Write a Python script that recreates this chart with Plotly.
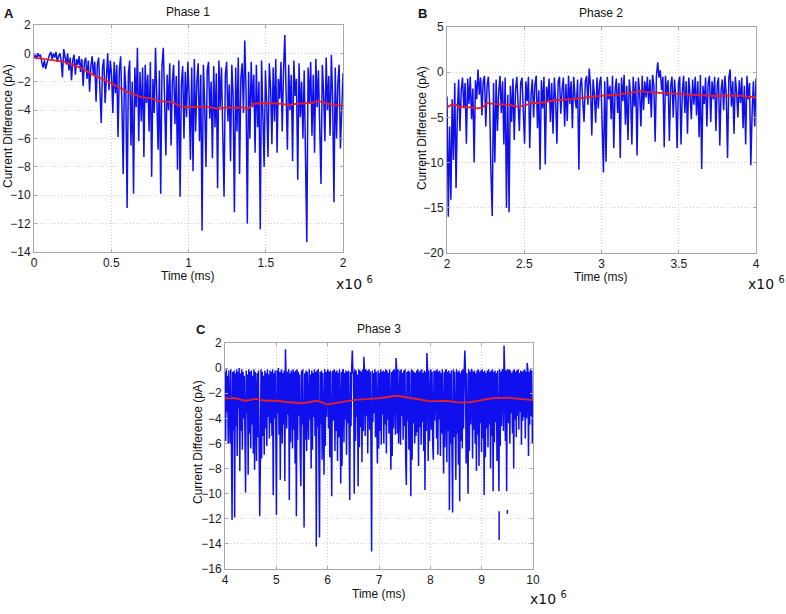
import numpy as np
import plotly.graph_objects as go

# ---------------- DATA ----------------
# Panel A (Phase 1): 0 .. 2e6 ms
phase1_range = [0, 2e6]
phase1_current = [
    -0.3,-0.1,-0.4,0.0,-0.2,-0.1,-0.6,-1.0,-0.5,-1.1,-0.7,-0.3,
    -0.1,0.1,-0.4,0.0,-0.3,0.1,-0.6,-0.2,0.0,-0.5,-1.7,0.3,
    -0.2,-0.8,0.0,-1.2,-0.3,-1.9,-0.5,-0.1,-1.5,-0.4,-0.8,-0.2,
    -1.3,-0.4,-2.3,-0.6,-0.3,-1.8,-0.5,-2.7,-0.9,-0.2,-1.6,-0.6,
    -3.4,-0.8,-0.3,-2.2,-4.9,-1.0,-0.4,-3.5,-1.2,0.0,-2.6,-0.5,
    -1.5,-4.2,-0.6,-2.8,-0.8,-5.9,-1.2,-0.2,-3.6,-8.5,-0.9,-2.4,
    -10.9,-1.5,-0.5,-6.5,-2.0,-9.9,-1.0,-3.8,0.4,-6.2,-1.3,-4.8,
    -1.0,-7.3,-0.8,-3.5,-1.5,-5.5,-0.6,-8.7,-1.8,-4.2,0.4,-2.5,
    -6.8,-1.2,-9.9,-0.9,0.4,-3.2,-7.2,-1.5,-4.0,-0.7,-6.5,-2.0,
    -0.8,-5.0,-1.6,-8.2,-0.5,-10.1,-2.2,-0.9,-6.0,-1.3,-4.5,-0.6,
    -3.0,-7.5,-1.0,-8.3,-0.4,-5.5,-2.0,-0.7,-6.2,-1.5,-12.5,-0.8,
    -3.5,-8.0,-1.2,-0.6,-4.6,-2.0,-7.4,-0.9,-5.2,-1.4,-9.5,-0.5,
    -3.8,-1.0,-6.8,-10.1,-1.5,-0.6,-4.8,-2.2,-7.6,-0.8,-3.0,-11.2,
    -1.0,-5.5,-0.3,-8.5,-1.8,-0.7,-4.2,0.9,-2.5,-12.0,-1.3,-6.0,
    -0.6,-3.8,-1.5,-7.0,-0.8,-5.2,-2.0,-12.4,-0.5,-4.0,-8.0,-1.2,
    -3.5,-7.3,-0.7,-2.4,-6.4,-1.0,-4.8,-0.4,-7.0,-1.8,-3.2,-0.6,
    -5.5,-1.2,1.3,-2.8,-6.8,-0.8,-4.0,-1.5,-7.6,-0.5,-3.0,-1.8,
    -8.9,-0.7,-4.5,-2.0,-6.0,-1.2,-8.0,-13.3,-1.0,-3.5,-0.6,-5.8,
    -1.5,-7.0,-0.4,-3.8,-1.2,-5.5,-9.2,-0.8,-2.8,-6.2,-0.3,-4.0,
    -1.6,-5.8,-0.1,-3.2,-10.5,-1.0,-6.0,-2.2,-0.8,-6.7,-3.0,-1.4,
]
phase1_mean_t = [0, 0.1e6, 0.2e6, 0.3e6, 0.4e6, 0.5e6, 0.6e6, 0.7e6, 0.75e6, 0.8e6,
                 0.9e6, 0.95e6, 1.0e6, 1.1e6, 1.2e6, 1.25e6, 1.3e6, 1.35e6, 1.38e6,
                 1.42e6, 1.5e6, 1.6e6, 1.65e6, 1.7e6, 1.8e6, 1.84e6, 1.9e6, 2.0e6]
phase1_mean = [-0.3, -0.45, -0.6, -1.0, -1.6, -2.1, -2.7, -3.1, -3.15, -3.35,
               -3.45, -3.75, -3.8, -3.75, -3.9, -3.8, -3.85, -3.8, -3.95,
               -3.55, -3.5, -3.55, -3.65, -3.55, -3.5, -3.35, -3.55, -3.7]

# Panel B (Phase 2): 2e6 .. 4e6 ms
phase2_range = [2e6, 4e6]
phase2_current = [
    -2.7,-16.0,-6.0,-14.1,-3.0,-9.7,-1.2,-12.8,-4.5,-0.8,-6.5,-2.0,
    -0.6,-4.0,-1.2,-7.9,-0.7,-3.5,-0.5,-5.2,-1.8,-10.0,-0.9,-3.0,
    0.3,-2.5,-0.6,-4.8,-1.0,-0.4,-6.0,-1.5,-0.5,-3.5,-11.1,-15.9,
    -1.2,-10.0,-0.8,-6.5,-2.2,-0.4,-4.5,-1.0,-8.0,-0.6,-15.0,-2.5,
    -15.5,-1.5,-5.5,-0.7,-7.5,-2.0,-0.5,-3.8,-6.5,-1.2,-0.6,-4.2,
    -7.9,-1.0,-3.2,-0.5,-8.4,-2.5,-0.8,-5.0,-1.4,-0.4,-6.2,-2.0,
    -10.8,-0.9,-4.0,-0.5,-10.2,-1.6,-3.2,-0.7,-5.5,-1.2,-6.8,-0.6,
    -3.0,-7.9,-1.0,-0.5,-4.6,-2.0,-0.6,-6.0,-1.3,-5.4,-0.4,-3.5,
    -1.0,-6.2,-0.5,-2.8,-4.0,-0.8,-10.8,-1.5,-0.6,-3.2,-5.5,-1.0,
    -0.4,-3.6,0.4,-1.5,-7.0,-0.8,-2.5,-5.6,-0.6,-4.0,-1.2,-0.5,
    -6.5,-11.1,-1.0,-9.9,-0.5,-3.0,-1.5,-5.2,-0.4,-8.4,-2.0,-0.7,
    -4.5,-1.2,-9.5,-0.6,-3.2,-0.3,-5.8,-1.5,-7.5,-0.8,-2.5,-8.0,
    -0.5,-3.8,-1.0,-9.2,-0.6,-2.2,-6.0,-0.4,-4.2,-1.0,-2.8,-0.5,
    -3.5,-0.8,-5.0,-0.3,-1.5,-7.7,-0.4,1.1,-0.6,0.2,-2.0,-0.5,
    -8.3,-0.4,-2.6,-0.9,-7.6,-1.5,-0.5,-5.0,-0.8,-3.0,-8.4,-1.2,
    -0.5,-8.0,-2.2,-0.4,-4.5,-1.0,-6.8,-0.6,-2.5,-5.2,-0.8,-3.6,
    -0.5,-4.8,-1.0,-7.2,-0.3,-10.7,-1.5,-3.5,-0.6,-6.0,-1.2,-0.4,
    -5.5,-1.0,-3.0,-0.5,-6.5,-1.4,-0.6,-8.1,-2.0,-0.8,-4.2,-0.4,
    -2.5,-9.5,-0.6,0.3,-3.8,-1.0,-6.8,-0.5,-2.2,-5.0,-0.9,-3.4,
    -0.6,-6.2,-1.5,-8.0,-0.4,-3.0,-1.2,-10.3,-4.5,-1.0,-6.0,-0.7,
]
phase2_mean_t = [2.0e6, 2.03e6, 2.06e6, 2.08e6, 2.1e6, 2.15e6, 2.2e6, 2.23e6, 2.26e6,
                 2.3e6, 2.4e6, 2.45e6, 2.5e6, 2.55e6, 2.6e6, 2.7e6, 2.8e6, 2.9e6,
                 3.0e6, 3.1e6, 3.2e6, 3.25e6, 3.3e6, 3.4e6, 3.5e6, 3.6e6, 3.7e6,
                 3.8e6, 3.9e6, 3.95e6, 4.0e6]
phase2_mean = [-3.9, -3.6, -3.6, -3.9, -3.8, -3.9, -4.0, -3.9, -3.4,
               -3.5, -3.6, -3.8, -3.7, -3.4, -3.4, -3.1, -3.0, -2.8,
               -2.6, -2.5, -2.2, -2.1, -2.2, -2.3, -2.4, -2.5, -2.6,
               -2.6, -2.6, -2.7, -2.8]

# Panel C (Phase 3): 4e6 .. 10e6 ms
phase3_range = [4e6, 10e6]
phase3_current = [
    -0.3,-5.8,-0.1,-3.5,-0.6,-6.0,-0.2,-4.2,
    -6.0,-0.1,-4.4,-12.1,-0.3,-5.0,-0.2,-11.9,
    -0.4,-4.6,-0.1,-7.0,-0.3,-3.2,0.0,-8.2,
    -0.4,-5.0,-0.1,-6.5,-0.3,-4.0,-0.6,-7.2,
    -9.9,-0.2,-3.6,-0.5,-8.5,-0.1,-5.2,-0.3,
    -6.4,-0.2,-4.5,-0.6,-6.8,-0.1,-8.1,-0.3,
    -2.0,-7.4,-0.4,-5.5,-0.2,-6.0,-11.8,-7.5,
    -0.1,-7.2,-0.3,-5.4,-0.6,-6.9,-0.2,-4.8,
    -0.4,-6.2,-0.1,-3.9,-0.5,-5.6,-0.2,-4.4,
    -0.3,-5.4,-0.1,-10.1,-0.4,-4.0,-0.2,-4.6,
    -11.7,-0.2,-3.6,0.0,-5.3,-0.3,-8.9,-0.4,
    -0.1,-6.0,-0.4,-4.5,-0.2,-9.0,1.5,-0.6,
    -4.8,-0.3,-3.7,-0.1,-10.5,-0.4,-5.9,-0.2,
    -0.5,-6.4,-0.1,-4.9,-0.3,-7.6,-0.2,-11.8,
    -0.1,-5.7,-0.3,-3.8,-0.5,-7.0,-9.4,-0.2,
    -4.5,-0.1,-6.2,-12.7,-0.4,-5.7,-0.2,-6.6,
    -0.3,-5.0,-5.7,-0.1,-4.1,-0.5,-8.0,-0.2,
    -6.5,-0.4,-3.9,-0.1,-5.4,-0.3,-14.2,-0.2,
    -4.7,-0.1,-6.0,-13.5,-0.3,-4.5,-0.2,-7.3,
    -0.4,-5.1,-8.5,-0.1,-6.2,-0.3,-3.9,-0.5,
    -0.1,-4.8,-0.3,-7.1,-0.2,-5.3,-10.2,-0.4,
    -0.2,-4.2,-0.1,-6.6,-0.3,-5.0,-0.2,-7.4,
    -0.4,-5.5,-0.1,-3.7,-9.2,-0.3,-7.8,-0.2,
    -0.1,-5.9,-0.4,-4.1,-0.2,-6.9,-0.3,-4.4,
    -0.2,-5.2,-10.5,-0.3,-4.6,-0.1,1.4,-0.4,
    -0.3,-10.0,-0.1,-5.8,-0.2,-3.9,-0.5,-9.4,
    -0.1,-6.3,-0.2,-4.7,-0.3,-7.5,-0.1,-5.0,
    0.9,-0.4,-5.4,-0.1,-3.8,-0.2,-6.8,-0.4,
    -0.1,-4.9,-0.3,-6.1,-14.6,-0.2,-4.3,-0.4,
    -3.6,-0.1,-5.5,-0.3,-4.0,-7.6,-0.2,-6.4,
    -0.4,-5.0,-0.1,-6.1,-0.3,-3.7,-0.2,-6.0,
    -0.3,-4.5,-0.1,-6.8,-0.2,-4.1,-0.4,-5.2,
    -0.1,-3.9,-8.1,-0.3,-7.0,-0.2,-4.8,-0.1,
    -0.4,-5.3,0.8,-0.2,-5.2,-0.1,-6.0,-0.3,
    -0.2,-6.1,-0.1,-3.8,-0.4,-5.7,-0.2,-4.6,
    -0.1,-7.2,-9.3,-0.3,-4.2,-0.2,-6.5,-0.3,
    -5.3,-10.2,-0.1,-7.3,-0.2,-4.4,-0.3,-6.0,
    -0.4,-5.4,-0.2,-5.1,-0.1,-7.8,-0.3,-4.7,
    -0.2,-6.1,-0.1,-4.3,-0.4,-6.6,-0.2,-9.7,
    -0.3,-5.0,1.2,-0.1,-7.4,-0.2,-5.8,-0.4,
    -0.1,-4.9,-0.3,-6.0,-7.3,-0.2,-4.2,-0.4,
    -0.2,-5.6,-0.1,-6.9,-0.3,-4.1,-0.2,-7.0,
    -0.4,-5.2,-0.1,-4.6,-8.4,-0.3,-6.3,-0.2,
    -0.1,-7.5,-0.3,-5.0,-0.2,-11.3,-0.4,-6.0,
    -0.2,-6.8,-11.5,-0.1,-5.5,-0.3,-7.0,-8.9,
    -0.1,-5.2,-0.3,-7.7,-0.2,-10.6,-0.4,-5.8,
    -0.2,-6.4,-0.1,-4.8,-0.3,1.4,-0.2,-7.6,
    -0.4,-5.1,-10.0,-0.1,-6.6,-0.3,-4.5,-0.2,
    -0.1,-7.2,-0.3,-4.9,-0.2,-6.0,-0.4,-8.2,
    -0.2,-5.3,-0.1,-7.8,-0.3,-4.4,-0.2,-6.7,
    -0.1,-5.6,-0.3,-10.1,-0.2,-7.1,-0.4,-4.8,
    -0.2,-6.3,-0.1,-4.5,-0.3,-8.0,-0.2,-5.4,
    -0.1,-9.8,-0.3,-5.9,-0.2,-4.3,-0.4,-7.4,
    -0.2,-5.5,-9.8,-0.1,-6.2,-0.3,-4.6,-0.2,
    -0.1,-5.0,1.8,-0.3,-5.8,-0.2,-9.8,-0.1,
    -0.3,-4.4,-0.1,-6.0,-0.2,-3.6,-0.4,-5.2,
    -0.2,-8.0,-0.1,-4.1,-0.3,-5.5,-0.2,-3.8,
    -0.1,-4.9,-0.4,-3.5,-0.2,-6.1,-0.3,-4.2,
    -0.2,-3.9,-0.1,-5.6,-0.3,-4.0,0.4,-0.2,
    -7.0,-0.3,-4.5,-0.1,-3.8,-0.2,-6.0,-2.5,
]
# detached fragments visible below the trace near 9.3e6 and 9.5e6
phase3_frag_t = [9.34e6, 9.34e6, None, 9.50e6, 9.50e6]
phase3_frag = [-11.4, -13.7, None, -11.3, -11.6]
phase3_mean_t = [4.0e6, 4.2e6, 4.4e6, 4.6e6, 4.8e6, 5.0e6, 5.2e6, 5.5e6, 5.8e6, 6.0e6,
                 6.2e6, 6.5e6, 6.8e6, 7.0e6, 7.35e6, 7.6e6, 7.8e6, 8.0e6, 8.3e6,
                 8.6e6, 8.8e6, 9.0e6, 9.2e6, 9.5e6, 9.8e6, 10.0e6]
phase3_mean = [-2.4, -2.4, -2.6, -2.45, -2.6, -2.6, -2.7, -2.8, -2.6, -2.9,
               -2.75, -2.55, -2.45, -2.4, -2.2, -2.4, -2.5, -2.65, -2.6,
               -2.75, -2.7, -2.55, -2.4, -2.35, -2.45, -2.55]

# tick labels
x1_tickvals = [0, 0.5e6, 1e6, 1.5e6, 2e6]
x1_ticktext = ["0", "0.5", "1", "1.5", "2"]
x2_tickvals = [2e6, 2.5e6, 3e6, 3.5e6, 4e6]
x2_ticktext = ["2", "2.5", "3", "3.5", "4"]
x3_tickvals = [4e6, 5e6, 6e6, 7e6, 8e6, 9e6, 10e6]
x3_ticktext = ["4", "5", "6", "7", "8", "9", "10"]
y1_tickvals = [2, 0, -2, -4, -6, -8, -10, -12, -14]
y2_tickvals = [5, 0, -5, -10, -15, -20]
y3_tickvals = [2, 0, -2, -4, -6, -8, -10, -12, -14, -16]

# ---------------- FIGURE ----------------
W, H = 786, 614
BLUE = "#1010ee"
RED = "#e0202a"
FONT = "Liberation Sans, Arial, sans-serif"

def px(x):
    return x / W

def py(y):
    return 1 - y / H

fig = go.Figure()

def add_panel(n, t_range, vals, mean_t, mean_v):
    t = np.linspace(t_range[0], t_range[1], len(vals))
    xa = "x" if n == 1 else f"x{n}"
    ya = "y" if n == 1 else f"y{n}"
    fig.add_trace(go.Scatter(x=t, y=vals, mode="lines", xaxis=xa, yaxis=ya,
                             line=dict(color=BLUE, width=1.5), showlegend=False,
                             hoverinfo="skip"))
    fig.add_trace(go.Scatter(x=mean_t, y=mean_v, mode="lines", xaxis=xa, yaxis=ya,
                             line=dict(color=RED, width=1.9), showlegend=False,
                             hoverinfo="skip"))

add_panel(1, phase1_range, phase1_current, phase1_mean_t, phase1_mean)
add_panel(2, phase2_range, phase2_current, phase2_mean_t, phase2_mean)
add_panel(3, phase3_range, phase3_current, phase3_mean_t, phase3_mean)
fig.add_trace(go.Scatter(x=phase3_frag_t, y=phase3_frag, mode="lines", xaxis="x3", yaxis="y3",
                         line=dict(color=BLUE, width=1.5), showlegend=False,
                         connectgaps=False, hoverinfo="skip"))

def axis_common():
    return dict(showline=True, linecolor="#a8a8a8", linewidth=1, mirror="ticks",
                ticks="inside", ticklen=3, tickcolor="#a8a8a8",
                showgrid=True, gridcolor="#cfcfcf", griddash="1px,2px", gridwidth=1,
                zeroline=False, automargin=False,
                tickfont=dict(family=FONT, size=12, color="#1a1a1a"),
                fixedrange=True)

# panel boxes in pixels: (left, right, top, bottom)
boxA = (34, 343, 25, 252)
boxB = (447, 756, 27, 253)
boxC = (225, 533, 343, 569)

def dom(box):
    l, r, t, b = box
    return [px(l), px(r)], [py(b), py(t)]

xdA, ydA = dom(boxA)
xdB, ydB = dom(boxB)
xdC, ydC = dom(boxC)

fig.update_layout(
    width=W, height=H, margin=dict(l=0, r=0, t=0, b=0, autoexpand=False),
    paper_bgcolor="white", plot_bgcolor="white",
    xaxis=dict(axis_common(), domain=xdA, anchor="y", range=phase1_range,
               tickvals=x1_tickvals, ticktext=x1_ticktext),
    yaxis=dict(axis_common(), domain=ydA, anchor="x", range=[-14, 2],
               tickvals=y1_tickvals),
    xaxis2=dict(axis_common(), domain=xdB, anchor="y2", range=phase2_range,
                tickvals=x2_tickvals, ticktext=x2_ticktext),
    yaxis2=dict(axis_common(), domain=ydB, anchor="x2", range=[-20, 5],
                tickvals=y2_tickvals),
    xaxis3=dict(axis_common(), domain=xdC, anchor="y3", range=phase3_range,
                tickvals=x3_tickvals, ticktext=x3_ticktext),
    yaxis3=dict(axis_common(), domain=ydC, anchor="x3", range=[-16, 2],
                tickvals=y3_tickvals),
)

annots = []
def ann(text, x, y, size=12, bold=False, angle=0, family=FONT):
    annots.append(dict(text=f"<b>{text}</b>" if bold else text,
                       x=px(x), y=py(y), xref="paper", yref="paper",
                       showarrow=False, xanchor="center", yanchor="middle",
                       textangle=angle,
                       font=dict(family=family, size=size, color="#111111")))

# letters and titles
ann("A", 9, 13, size=13, bold=True)
ann("Phase 1", 188, 12)
ann("B", 423, 13, size=13, bold=True)
ann("Phase 2", 601, 13)
ann("C", 201, 329, size=13, bold=True)
ann("Phase 3", 379, 329)
# x axis titles
ann("Time (ms)", 188, 276)
ann("Time (ms)", 601, 277)
ann("Time (ms)", 379, 594)
# y axis titles
ann("Current Difference (pA)", 8, 126, angle=-90)
ann("Current Difference (pA)", 422, 128, angle=-90)
ann("Current Difference (pA)", 198, 442, angle=-90)
# exponent labels
ann("x10 <sup>6</sup>", 354, 283, size=14, family="DejaVu Sans, sans-serif")
ann("x10 <sup>6</sup>", 766, 283, size=14, family="DejaVu Sans, sans-serif")
ann("x10 <sup>6</sup>", 548, 598, size=14, family="DejaVu Sans, sans-serif")

fig.update_layout(annotations=annots)

fig.write_html("out.html", config={"displayModeBar": False},
               post_script="document.body.style.margin='0px';document.body.style.padding='0px';")
